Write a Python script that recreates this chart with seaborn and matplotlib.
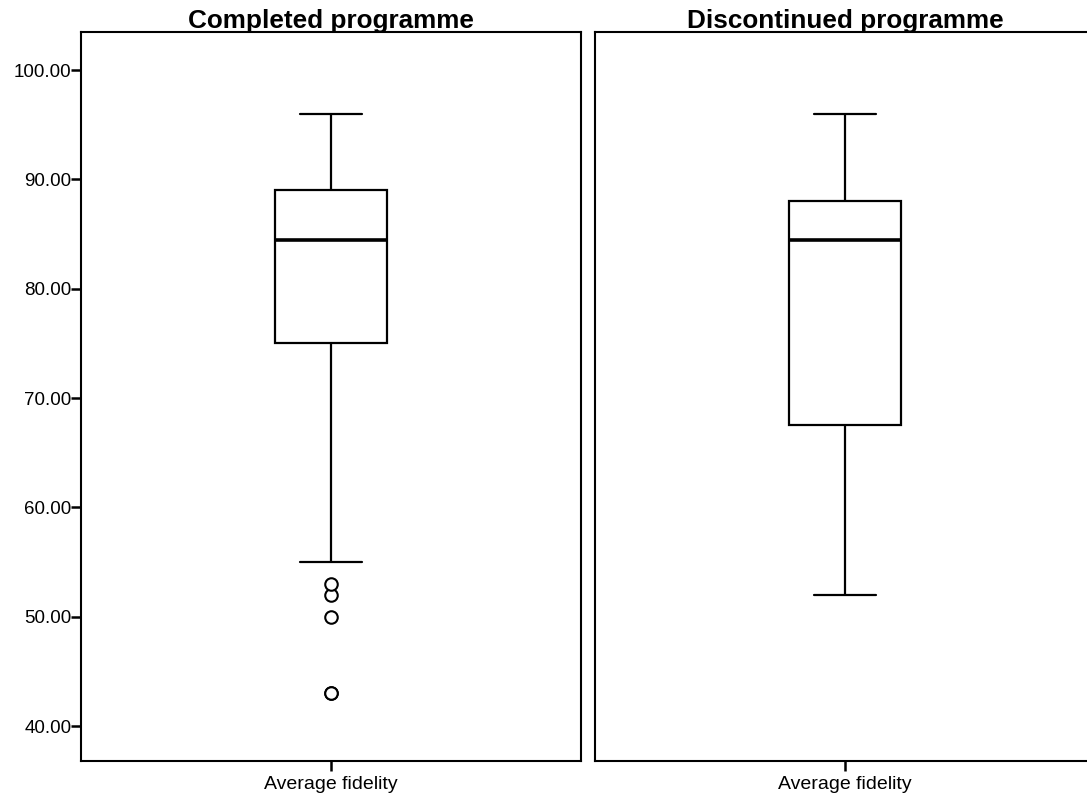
import matplotlib
matplotlib.use("Agg")
import matplotlib.pyplot as plt
import seaborn as sns
import pandas as pd

# Average fidelity scores per participant, split by programme status
completed_scores = [43, 43, 50, 52, 53, 55, 75, 77, 79, 80, 82, 83, 84.5,
                    85, 86, 87, 88, 88, 89, 90, 91, 92, 94, 95, 96]
discontinued_scores = [52, 60, 67.5, 78, 84.5, 86, 88, 92, 96]

panel_titles = ["Completed programme", "Discontinued programme"]
measure_label = "Average fidelity"
y_ticks = [40, 50, 60, 70, 80, 90, 100]

sns.set_theme(style="white")
plt.rcParams["font.family"] = ["Liberation Sans", "DejaVu Sans"]
plt.rcParams["text.color"] = "black"
plt.rcParams["xtick.color"] = "black"
plt.rcParams["ytick.color"] = "black"
plt.rcParams["axes.labelcolor"] = "black"

fig = plt.figure(figsize=(10.87, 8.01), dpi=100)
fig.patch.set_facecolor("white")

ax_left = fig.add_axes([81 / 1087, 40 / 801, 500 / 1087, 729 / 801])
ax_right = fig.add_axes([595 / 1087, 40 / 801, 500 / 1087, 729 / 801])

groups = [completed_scores, discontinued_scores]
for ax, title, scores in zip([ax_left, ax_right], panel_titles, groups):
    df = pd.DataFrame({"measure": measure_label, "score": scores})
    sns.boxplot(
        data=df, x="measure", y="score", ax=ax,
        width=0.224, color="white", linecolor="black", linewidth=1.6,
        fliersize=9, capwidths=0.124,
        medianprops=dict(linewidth=2.6, color="black"),
        flierprops=dict(marker="o", markerfacecolor="white",
                        markeredgecolor="black", markeredgewidth=1.5),
    )
    ax.set_xlim(-0.5, 0.5)
    ax.set_ylim(36.8, 103.48)
    ax.set_xlabel("")
    ax.set_ylabel("")
    ax.set_title(title, fontsize=18.8, fontweight="bold", pad=3,
                 color="black")
    for s in ax.spines.values():
        s.set_visible(True)
        s.set_color("black")
        s.set_linewidth(1.5)
    ax.tick_params(axis="x", which="major", direction="out", length=7,
                   width=1.8, color="black", labelcolor="black",
                   labelsize=14, pad=4, bottom=True)
    ax.set_facecolor("white")

ax_left.set_yticks(y_ticks)
ax_left.set_yticklabels([f"{v:.2f}" for v in y_ticks])
ax_left.tick_params(axis="y", direction="out", length=7, width=1.8,
                    color="black", labelcolor="black", labelsize=13.5,
                    pad=0, left=True)
ax_right.set_yticks([])

fig.savefig("out.png", dpi=100, facecolor="white")
